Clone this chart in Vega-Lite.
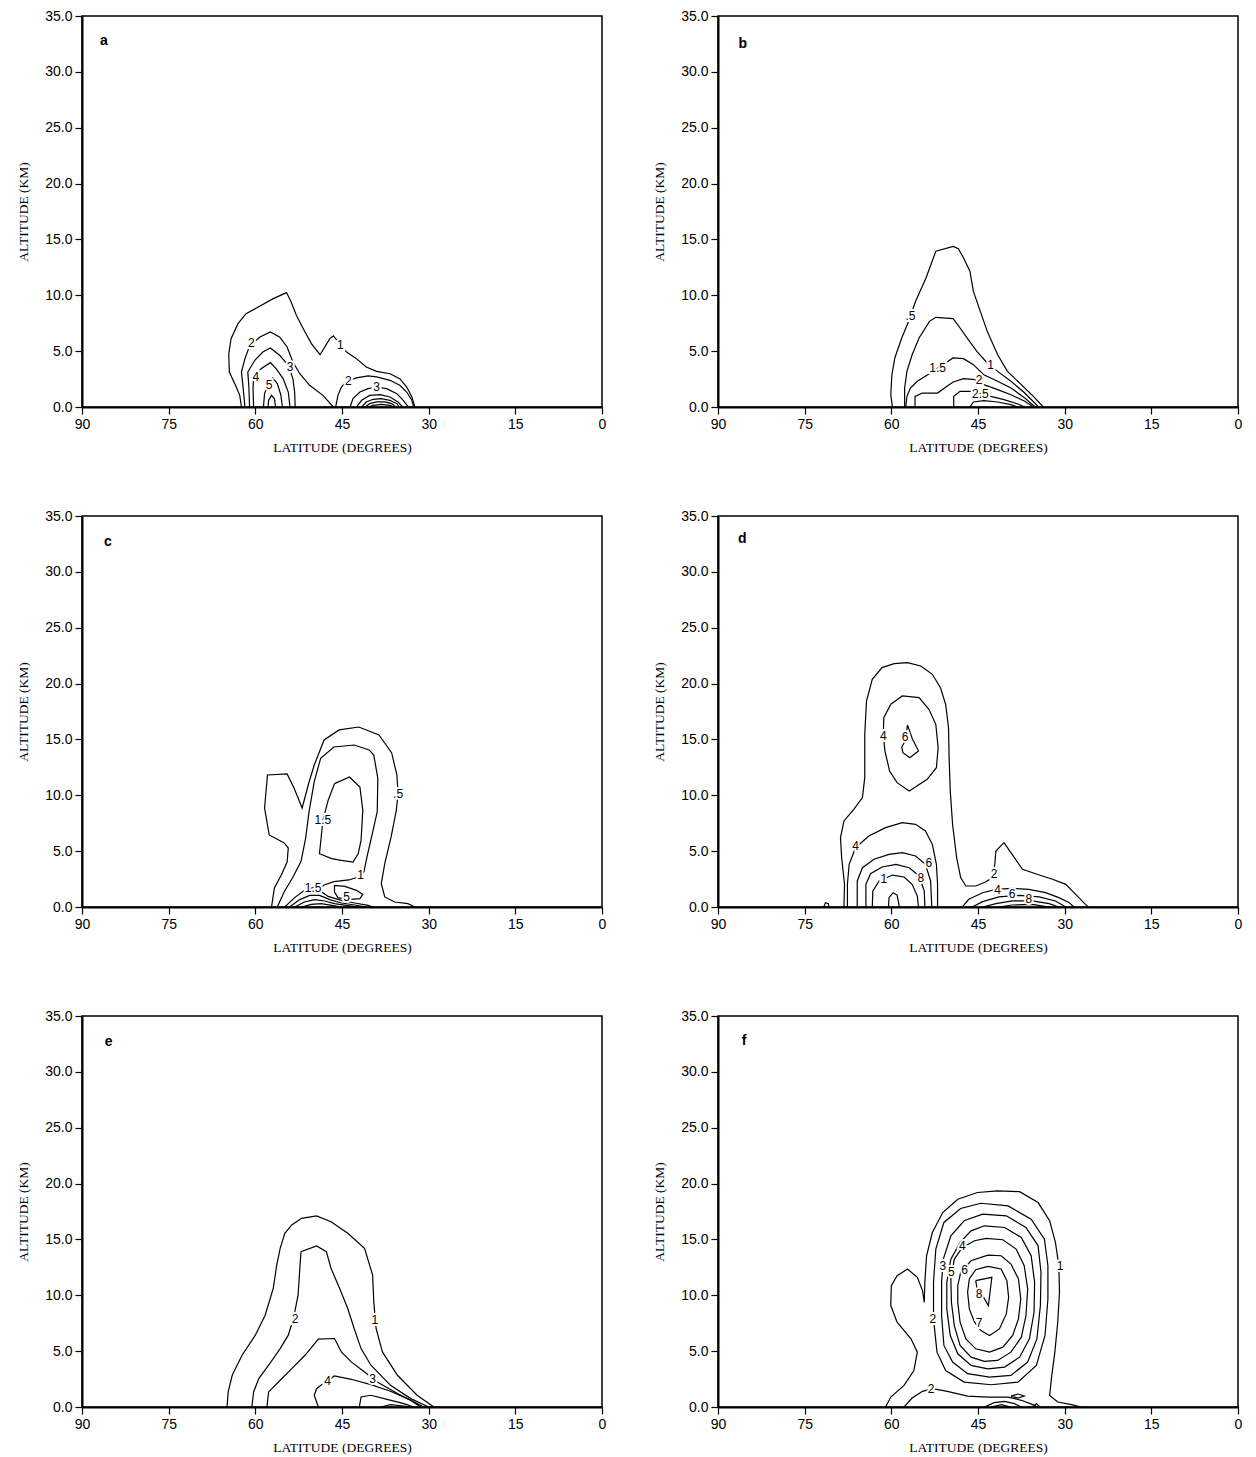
{
"$schema":"https://vega.github.io/schema/vega-lite/v6.json",
"background":"white",
"padding":{"left":16,"top":8,"right":5,"bottom":5},
"data":{"values":[
{"p":"a","id":"a1","lat":62.4,"alt":0},{"p":"a","id":"a1","lat":62.7,"alt":1.04},{"p":"a","id":"a1","lat":63.3,"alt":1.79},{"p":"a","id":"a1","lat":64.5,"alt":3.13},{"p":"a","id":"a1","lat":64.6,"alt":4.77},{"p":"a","id":"a1","lat":64.2,"alt":6.12},{"p":"a","id":"a1","lat":63.0,"alt":7.46},{"p":"a","id":"a1","lat":61.6,"alt":8.36},{"p":"a","id":"a1","lat":59.5,"alt":8.95},{"p":"a","id":"a1","lat":56.9,"alt":9.7},{"p":"a","id":"a1","lat":54.6,"alt":10.24},{"p":"a","id":"a1","lat":53.8,"alt":9.4},{"p":"a","id":"a1","lat":52.9,"alt":8.21},{"p":"a","id":"a1","lat":51.7,"alt":7.01},{"p":"a","id":"a1","lat":50.3,"alt":5.67},{"p":"a","id":"a1","lat":48.8,"alt":4.68},{"p":"a","id":"a1","lat":47.1,"alt":6.12},{"p":"a","id":"a1","lat":46.5,"alt":6.36},{"p":"a","id":"a1","lat":45.4,"alt":5.67},{"p":"a","id":"a1","lat":44.2,"alt":4.92},{"p":"a","id":"a1","lat":42.5,"alt":4.33},{"p":"a","id":"a1","lat":40.8,"alt":3.58},{"p":"a","id":"a1","lat":39.0,"alt":3.19},{"p":"a","id":"a1","lat":36.7,"alt":2.98},{"p":"a","id":"a1","lat":35.0,"alt":2.54},{"p":"a","id":"a1","lat":33.8,"alt":1.79},{"p":"a","id":"a1","lat":32.9,"alt":0.9},{"p":"a","id":"a1","lat":32.4,"alt":0},
{"p":"a","id":"a2","lat":61.8,"alt":0},{"p":"a","id":"a2","lat":62.1,"alt":1.64},{"p":"a","id":"a2","lat":62.4,"alt":3.13},{"p":"a","id":"a2","lat":61.8,"alt":4.33},{"p":"a","id":"a2","lat":61.0,"alt":5.46},{"p":"a","id":"a2","lat":59.2,"alt":6.27},{"p":"a","id":"a2","lat":57.4,"alt":6.71},{"p":"a","id":"a2","lat":55.8,"alt":6.27},{"p":"a","id":"a2","lat":54.5,"alt":5.37},{"p":"a","id":"a2","lat":53.5,"alt":4.03},{"p":"a","id":"a2","lat":52.3,"alt":2.98},{"p":"a","id":"a2","lat":50.6,"alt":1.94},{"p":"a","id":"a2","lat":48.3,"alt":1.04},{"p":"a","id":"a2","lat":46.5,"alt":0},
{"p":"a","id":"a3","lat":61.0,"alt":0},{"p":"a","id":"a3","lat":61.1,"alt":1.64},{"p":"a","id":"a3","lat":61.3,"alt":3.13},{"p":"a","id":"a3","lat":60.1,"alt":4.18},{"p":"a","id":"a3","lat":58.7,"alt":4.92},{"p":"a","id":"a3","lat":57.4,"alt":5.28},{"p":"a","id":"a3","lat":55.8,"alt":4.63},{"p":"a","id":"a3","lat":54.3,"alt":3.73},{"p":"a","id":"a3","lat":53.5,"alt":2.54},{"p":"a","id":"a3","lat":53.2,"alt":1.34},{"p":"a","id":"a3","lat":53.1,"alt":0},
{"p":"a","id":"a4","lat":60.3,"alt":0},{"p":"a","id":"a4","lat":60.4,"alt":1.64},{"p":"a","id":"a4","lat":60.3,"alt":2.69},{"p":"a","id":"a4","lat":59.0,"alt":3.43},{"p":"a","id":"a4","lat":57.4,"alt":3.97},{"p":"a","id":"a4","lat":56.4,"alt":3.43},{"p":"a","id":"a4","lat":55.2,"alt":2.54},{"p":"a","id":"a4","lat":54.3,"alt":1.34},{"p":"a","id":"a4","lat":54.0,"alt":0},
{"p":"a","id":"a5","lat":58.6,"alt":0},{"p":"a","id":"a5","lat":58.4,"alt":1.2},{"p":"a","id":"a5","lat":57.7,"alt":2.1},{"p":"a","id":"a5","lat":57.0,"alt":2.6},{"p":"a","id":"a5","lat":56.2,"alt":2.1},{"p":"a","id":"a5","lat":55.6,"alt":1.1},{"p":"a","id":"a5","lat":55.3,"alt":0},
{"p":"a","id":"a6","lat":57.8,"alt":0},{"p":"a","id":"a6","lat":57.7,"alt":0.6},{"p":"a","id":"a6","lat":57.2,"alt":1.04},{"p":"a","id":"a6","lat":56.7,"alt":0.75},{"p":"a","id":"a6","lat":56.5,"alt":0},
{"p":"a","id":"a7","lat":46.1,"alt":0},{"p":"a","id":"a7","lat":45.7,"alt":1.04},{"p":"a","id":"a7","lat":45.1,"alt":1.79},{"p":"a","id":"a7","lat":44.2,"alt":2.3},{"p":"a","id":"a7","lat":42.5,"alt":2.6},{"p":"a","id":"a7","lat":40.5,"alt":2.78},{"p":"a","id":"a7","lat":39.0,"alt":2.69},{"p":"a","id":"a7","lat":36.7,"alt":2.39},{"p":"a","id":"a7","lat":35.0,"alt":1.94},{"p":"a","id":"a7","lat":33.8,"alt":1.34},{"p":"a","id":"a7","lat":32.9,"alt":0.6},{"p":"a","id":"a7","lat":32.6,"alt":0},
{"p":"a","id":"a8","lat":43.6,"alt":0},{"p":"a","id":"a8","lat":43.1,"alt":0.75},{"p":"a","id":"a8","lat":41.9,"alt":1.34},{"p":"a","id":"a8","lat":40.5,"alt":1.64},{"p":"a","id":"a8","lat":39.0,"alt":1.79},{"p":"a","id":"a8","lat":37.3,"alt":1.64},{"p":"a","id":"a8","lat":35.5,"alt":1.19},{"p":"a","id":"a8","lat":34.4,"alt":0.6},{"p":"a","id":"a8","lat":33.5,"alt":0},
{"p":"a","id":"a9","lat":42.5,"alt":0},{"p":"a","id":"a9","lat":41.6,"alt":0.6},{"p":"a","id":"a9","lat":40.2,"alt":1.04},{"p":"a","id":"a9","lat":38.4,"alt":1.1},{"p":"a","id":"a9","lat":36.7,"alt":0.9},{"p":"a","id":"a9","lat":35.3,"alt":0.45},{"p":"a","id":"a9","lat":34.5,"alt":0},
{"p":"a","id":"a10","lat":41.6,"alt":0},{"p":"a","id":"a10","lat":40.8,"alt":0.45},{"p":"a","id":"a10","lat":39.6,"alt":0.69},{"p":"a","id":"a10","lat":38.2,"alt":0.75},{"p":"a","id":"a10","lat":36.7,"alt":0.6},{"p":"a","id":"a10","lat":35.5,"alt":0.3},{"p":"a","id":"a10","lat":35.1,"alt":0},
{"p":"a","id":"a11","lat":41.0,"alt":0},{"p":"a","id":"a11","lat":40.2,"alt":0.3},{"p":"a","id":"a11","lat":39.0,"alt":0.45},{"p":"a","id":"a11","lat":37.6,"alt":0.45},{"p":"a","id":"a11","lat":36.4,"alt":0.3},{"p":"a","id":"a11","lat":35.7,"alt":0},
{"p":"a","id":"a12","lat":40.5,"alt":0},{"p":"a","id":"a12","lat":39.6,"alt":0.15},{"p":"a","id":"a12","lat":38.2,"alt":0.24},{"p":"a","id":"a12","lat":36.7,"alt":0.15},{"p":"a","id":"a12","lat":36.1,"alt":0},
{"p":"a","t":"1","lat":45.3,"alt":5.58},{"p":"a","t":"2","lat":60.7,"alt":5.76},{"p":"a","t":"3","lat":54.0,"alt":3.6},{"p":"a","t":"4","lat":59.9,"alt":2.7},{"p":"a","t":"5","lat":57.6,"alt":1.94},{"p":"a","t":"2","lat":43.9,"alt":2.3},{"p":"a","t":"3","lat":39.0,"alt":1.75},
{"p":"a","L":"a","lat":86.2,"alt":32.8},

{"p":"b","id":"b1","lat":59.8,"alt":0},{"p":"b","id":"b1","lat":60.1,"alt":1.1},{"p":"b","id":"b1","lat":59.9,"alt":2.89},{"p":"b","id":"b1","lat":59.4,"alt":4.39},{"p":"b","id":"b1","lat":58.2,"alt":6.18},{"p":"b","id":"b1","lat":57.0,"alt":7.67},{"p":"b","id":"b1","lat":55.8,"alt":9.46},{"p":"b","id":"b1","lat":54.0,"alt":11.55},{"p":"b","id":"b1","lat":52.3,"alt":13.94},{"p":"b","id":"b1","lat":49.3,"alt":14.38},{"p":"b","id":"b1","lat":48.4,"alt":14.17},{"p":"b","id":"b1","lat":47.5,"alt":13.34},{"p":"b","id":"b1","lat":46.4,"alt":12.15},{"p":"b","id":"b1","lat":45.8,"alt":10.35},{"p":"b","id":"b1","lat":44.6,"alt":8.56},{"p":"b","id":"b1","lat":43.4,"alt":6.77},{"p":"b","id":"b1","lat":41.6,"alt":4.68},{"p":"b","id":"b1","lat":39.9,"alt":3.19},{"p":"b","id":"b1","lat":37.5,"alt":2.0},{"p":"b","id":"b1","lat":35.7,"alt":1.1},{"p":"b","id":"b1","lat":33.7,"alt":0},
{"p":"b","id":"b2","lat":57.7,"alt":0},{"p":"b","id":"b2","lat":57.7,"alt":1.7},{"p":"b","id":"b2","lat":57.3,"alt":3.19},{"p":"b","id":"b2","lat":56.4,"alt":4.68},{"p":"b","id":"b2","lat":55.2,"alt":6.18},{"p":"b","id":"b2","lat":53.4,"alt":7.67},{"p":"b","id":"b2","lat":52.3,"alt":8.03},{"p":"b","id":"b2","lat":49.3,"alt":7.91},{"p":"b","id":"b2","lat":48.1,"alt":7.07},{"p":"b","id":"b2","lat":46.9,"alt":6.18},{"p":"b","id":"b2","lat":45.2,"alt":4.98},{"p":"b","id":"b2","lat":43.4,"alt":3.94},{"p":"b","id":"b2","lat":41.6,"alt":3.19},{"p":"b","id":"b2","lat":39.3,"alt":2.3},{"p":"b","id":"b2","lat":36.9,"alt":1.25},{"p":"b","id":"b2","lat":34.5,"alt":0},
{"p":"b","id":"b3","lat":57.5,"alt":0},{"p":"b","id":"b3","lat":57.3,"alt":0.95},{"p":"b","id":"b3","lat":56.7,"alt":1.7},{"p":"b","id":"b3","lat":55.5,"alt":2.3},{"p":"b","id":"b3","lat":53.7,"alt":2.89},{"p":"b","id":"b3","lat":51.1,"alt":3.79},{"p":"b","id":"b3","lat":49.3,"alt":4.39},{"p":"b","id":"b3","lat":47.5,"alt":4.33},{"p":"b","id":"b3","lat":45.8,"alt":3.79},{"p":"b","id":"b3","lat":44.0,"alt":2.89},{"p":"b","id":"b3","lat":41.6,"alt":2.3},{"p":"b","id":"b3","lat":39.3,"alt":1.7},{"p":"b","id":"b3","lat":36.9,"alt":0.81},{"p":"b","id":"b3","lat":35.1,"alt":0},
{"p":"b","id":"b4","lat":55.9,"alt":0},{"p":"b","id":"b4","lat":55.9,"alt":0.95},{"p":"b","id":"b4","lat":54.6,"alt":1.25},{"p":"b","id":"b4","lat":52.0,"alt":1.25},{"p":"b","id":"b4","lat":50.8,"alt":1.7},{"p":"b","id":"b4","lat":49.3,"alt":2.24},{"p":"b","id":"b4","lat":47.5,"alt":2.54},{"p":"b","id":"b4","lat":45.5,"alt":2.45},{"p":"b","id":"b4","lat":44.0,"alt":2.0},{"p":"b","id":"b4","lat":41.6,"alt":1.55},{"p":"b","id":"b4","lat":39.3,"alt":1.1},{"p":"b","id":"b4","lat":36.9,"alt":0.51},{"p":"b","id":"b4","lat":35.4,"alt":0},
{"p":"b","id":"b5","lat":49.2,"alt":0},{"p":"b","id":"b5","lat":49.2,"alt":0.95},{"p":"b","id":"b5","lat":48.1,"alt":1.4},{"p":"b","id":"b5","lat":45.8,"alt":1.4},{"p":"b","id":"b5","lat":42.8,"alt":0.95},{"p":"b","id":"b5","lat":40.5,"alt":0.66},{"p":"b","id":"b5","lat":38.1,"alt":0.27},{"p":"b","id":"b5","lat":36.9,"alt":0},
{"p":"b","id":"b6","lat":46.4,"alt":0},{"p":"b","id":"b6","lat":45.8,"alt":0.45},{"p":"b","id":"b6","lat":44.0,"alt":0.57},{"p":"b","id":"b6","lat":41.6,"alt":0.45},{"p":"b","id":"b6","lat":39.3,"alt":0.21},{"p":"b","id":"b6","lat":38.1,"alt":0},
{"p":"b","t":".5","lat":56.7,"alt":8.12},{"p":"b","t":"1","lat":42.8,"alt":3.79},{"p":"b","t":"1.5","lat":52.0,"alt":3.49},{"p":"b","t":"2","lat":44.8,"alt":2.45},{"p":"b","t":"2.5","lat":44.6,"alt":1.19},
{"p":"b","L":"b","lat":85.7,"alt":32.5},

{"p":"c","id":"c1","lat":57.2,"alt":0},{"p":"c","id":"c1","lat":56.7,"alt":1.7},{"p":"c","id":"c1","lat":55.5,"alt":2.86},{"p":"c","id":"c1","lat":54.5,"alt":4.03},{"p":"c","id":"c1","lat":54.3,"alt":5.28},{"p":"c","id":"c1","lat":55.0,"alt":5.73},{"p":"c","id":"c1","lat":57.6,"alt":6.45},{"p":"c","id":"c1","lat":58.4,"alt":8.86},{"p":"c","id":"c1","lat":57.9,"alt":11.82},{"p":"c","id":"c1","lat":54.5,"alt":11.91},{"p":"c","id":"c1","lat":53.3,"alt":10.65},{"p":"c","id":"c1","lat":51.9,"alt":8.86},{"p":"c","id":"c1","lat":50.7,"alt":11.19},{"p":"c","id":"c1","lat":49.8,"alt":12.71},{"p":"c","id":"c1","lat":48.1,"alt":14.95},{"p":"c","id":"c1","lat":45.5,"alt":15.85},{"p":"c","id":"c1","lat":42.1,"alt":16.11},{"p":"c","id":"c1","lat":38.6,"alt":15.4},{"p":"c","id":"c1","lat":36.4,"alt":13.79},{"p":"c","id":"c1","lat":35.5,"alt":11.82},{"p":"c","id":"c1","lat":35.3,"alt":10.15},{"p":"c","id":"c1","lat":35.6,"alt":8.65},{"p":"c","id":"c1","lat":36.5,"alt":6.27},{"p":"c","id":"c1","lat":37.6,"alt":3.88},{"p":"c","id":"c1","lat":38.2,"alt":2.09},{"p":"c","id":"c1","lat":37.6,"alt":0.9},{"p":"c","id":"c1","lat":35.9,"alt":0.45},{"p":"c","id":"c1","lat":33.6,"alt":0.3},{"p":"c","id":"c1","lat":32.4,"alt":0},
{"p":"c","id":"c2","lat":56.2,"alt":0},{"p":"c","id":"c2","lat":55.0,"alt":1.37},{"p":"c","id":"c2","lat":53.6,"alt":2.57},{"p":"c","id":"c2","lat":52.1,"alt":4.06},{"p":"c","id":"c2","lat":51.3,"alt":6.15},{"p":"c","id":"c2","lat":50.7,"alt":8.53},{"p":"c","id":"c2","lat":49.8,"alt":11.22},{"p":"c","id":"c2","lat":48.7,"alt":13.31},{"p":"c","id":"c2","lat":46.4,"alt":14.32},{"p":"c","id":"c2","lat":42.9,"alt":14.5},{"p":"c","id":"c2","lat":40.3,"alt":14.06},{"p":"c","id":"c2","lat":39.5,"alt":13.6},{"p":"c","id":"c2","lat":38.8,"alt":11.52},{"p":"c","id":"c2","lat":38.9,"alt":8.53},{"p":"c","id":"c2","lat":39.8,"alt":6.45},{"p":"c","id":"c2","lat":40.6,"alt":4.66},{"p":"c","id":"c2","lat":41.2,"alt":3.16},{"p":"c","id":"c2","lat":42.1,"alt":2.71},{"p":"c","id":"c2","lat":43.8,"alt":2.42},{"p":"c","id":"c2","lat":46.4,"alt":2.27},{"p":"c","id":"c2","lat":48.1,"alt":1.97},{"p":"c","id":"c2","lat":48.9,"alt":1.6},
{"p":"c","id":"c3","lat":54.9,"alt":0},{"p":"c","id":"c3","lat":53.2,"alt":0.84},{"p":"c","id":"c3","lat":51.5,"alt":1.49},{"p":"c","id":"c3","lat":50.0,"alt":1.73},{"p":"c","id":"c3","lat":48.9,"alt":1.49},{"p":"c","id":"c3","lat":47.4,"alt":0.95},{"p":"c","id":"c3","lat":45.1,"alt":0.6},{"p":"c","id":"c3","lat":42.8,"alt":0.36},{"p":"c","id":"c3","lat":40.5,"alt":0.15},{"p":"c","id":"c3","lat":39.6,"alt":0},
{"p":"c","id":"c4","lat":54.1,"alt":0},{"p":"c","id":"c4","lat":52.3,"alt":0.66},{"p":"c","id":"c4","lat":50.6,"alt":1.04},{"p":"c","id":"c4","lat":48.9,"alt":1.04},{"p":"c","id":"c4","lat":47.1,"alt":0.66},{"p":"c","id":"c4","lat":45.1,"alt":0.36},{"p":"c","id":"c4","lat":42.8,"alt":0.18},{"p":"c","id":"c4","lat":40.8,"alt":0},
{"p":"c","id":"c5","lat":53.2,"alt":0},{"p":"c","id":"c5","lat":51.5,"alt":0.45},{"p":"c","id":"c5","lat":49.7,"alt":0.66},{"p":"c","id":"c5","lat":48.0,"alt":0.54},{"p":"c","id":"c5","lat":46.3,"alt":0.3},{"p":"c","id":"c5","lat":44.0,"alt":0.12},{"p":"c","id":"c5","lat":42.2,"alt":0},
{"p":"c","id":"c6","lat":52.0,"alt":0},{"p":"c","id":"c6","lat":50.3,"alt":0.24},{"p":"c","id":"c6","lat":48.6,"alt":0.3},{"p":"c","id":"c6","lat":46.8,"alt":0.15},{"p":"c","id":"c6","lat":45.1,"alt":0},
{"p":"c","id":"c7","lat":46.3,"alt":1.94},{"p":"c","id":"c7","lat":44.5,"alt":1.85},{"p":"c","id":"c7","lat":42.5,"alt":1.49},{"p":"c","id":"c7","lat":41.4,"alt":1.13},{"p":"c","id":"c7","lat":41.9,"alt":0.75},{"p":"c","id":"c7","lat":44.0,"alt":0.66},{"p":"c","id":"c7","lat":45.7,"alt":0.84},{"p":"c","id":"c7","lat":46.3,"alt":1.34},{"p":"c","id":"c7","lat":46.3,"alt":1.94},
{"p":"c","id":"c8","lat":46.3,"alt":11.04},{"p":"c","id":"c8","lat":43.7,"alt":11.64},{"p":"c","id":"c8","lat":41.9,"alt":10.74},{"p":"c","id":"c8","lat":41.4,"alt":8.65},{"p":"c","id":"c8","lat":41.7,"alt":5.97},{"p":"c","id":"c8","lat":42.2,"alt":4.77},{"p":"c","id":"c8","lat":43.1,"alt":4.03},{"p":"c","id":"c8","lat":45.1,"alt":4.18},{"p":"c","id":"c8","lat":46.8,"alt":4.33},{"p":"c","id":"c8","lat":48.9,"alt":4.77},{"p":"c","id":"c8","lat":48.6,"alt":6.27},{"p":"c","id":"c8","lat":48.3,"alt":7.76},{"p":"c","id":"c8","lat":47.4,"alt":9.55},{"p":"c","id":"c8","lat":46.3,"alt":11.04},
{"p":"c","t":".5","lat":35.3,"alt":10.15},{"p":"c","t":"1.5","lat":48.3,"alt":7.76},{"p":"c","t":"1","lat":41.8,"alt":2.83},{"p":"c","t":"1.5","lat":50.0,"alt":1.73},{"p":"c","t":"5","lat":44.2,"alt":0.9},
{"p":"c","L":"c","lat":85.5,"alt":32.7},

{"p":"d","id":"d1","lat":68.2,"alt":0},{"p":"d","id":"d1","lat":68.1,"alt":2.03},{"p":"d","id":"d1","lat":68.6,"alt":4.42},{"p":"d","id":"d1","lat":68.8,"alt":6.21},{"p":"d","id":"d1","lat":68.2,"alt":7.7},{"p":"d","id":"d1","lat":66.5,"alt":8.74},{"p":"d","id":"d1","lat":65.0,"alt":9.79},{"p":"d","id":"d1","lat":64.6,"alt":11.58},{"p":"d","id":"d1","lat":64.6,"alt":15.46},{"p":"d","id":"d1","lat":64.3,"alt":18.44},{"p":"d","id":"d1","lat":63.3,"alt":20.38},{"p":"d","id":"d1","lat":61.6,"alt":21.43},{"p":"d","id":"d1","lat":59.5,"alt":21.78},{"p":"d","id":"d1","lat":57.2,"alt":21.87},{"p":"d","id":"d1","lat":54.9,"alt":21.57},{"p":"d","id":"d1","lat":52.9,"alt":20.83},{"p":"d","id":"d1","lat":51.5,"alt":19.63},{"p":"d","id":"d1","lat":50.6,"alt":18.14},{"p":"d","id":"d1","lat":50.1,"alt":16.05},{"p":"d","id":"d1","lat":50.0,"alt":13.37},{"p":"d","id":"d1","lat":49.8,"alt":10.38},{"p":"d","id":"d1","lat":49.4,"alt":7.4},{"p":"d","id":"d1","lat":48.7,"alt":4.42},{"p":"d","id":"d1","lat":48.0,"alt":2.63},{"p":"d","id":"d1","lat":47.1,"alt":1.88},{"p":"d","id":"d1","lat":45.4,"alt":1.88},{"p":"d","id":"d1","lat":43.7,"alt":2.24},{"p":"d","id":"d1","lat":42.5,"alt":2.63},{"p":"d","id":"d1","lat":42.1,"alt":3.82},{"p":"d","id":"d1","lat":41.9,"alt":5.01},{"p":"d","id":"d1","lat":40.5,"alt":5.76},{"p":"d","id":"d1","lat":39.1,"alt":4.71},{"p":"d","id":"d1","lat":37.3,"alt":3.37},{"p":"d","id":"d1","lat":34.4,"alt":2.86},{"p":"d","id":"d1","lat":32.1,"alt":2.48},{"p":"d","id":"d1","lat":29.8,"alt":2.03},{"p":"d","id":"d1","lat":28.1,"alt":1.13},{"p":"d","id":"d1","lat":26.4,"alt":0.24},{"p":"d","id":"d1","lat":25.9,"alt":0},
{"p":"d","id":"d2","lat":60.1,"alt":18.14},{"p":"d","id":"d2","lat":58.1,"alt":18.89},{"p":"d","id":"d2","lat":55.2,"alt":18.74},{"p":"d","id":"d2","lat":53.5,"alt":17.7},{"p":"d","id":"d2","lat":52.3,"alt":16.35},{"p":"d","id":"d2","lat":51.9,"alt":14.26},{"p":"d","id":"d2","lat":52.2,"alt":12.47},{"p":"d","id":"d2","lat":53.8,"alt":11.43},{"p":"d","id":"d2","lat":56.9,"alt":10.38},{"p":"d","id":"d2","lat":59.0,"alt":11.13},{"p":"d","id":"d2","lat":60.3,"alt":12.17},{"p":"d","id":"d2","lat":61.1,"alt":13.96},{"p":"d","id":"d2","lat":61.4,"alt":15.31},{"p":"d","id":"d2","lat":61.3,"alt":16.95},{"p":"d","id":"d2","lat":60.1,"alt":18.14},
{"p":"d","id":"d3","lat":57.2,"alt":16.29},{"p":"d","id":"d3","lat":56.4,"alt":15.1},{"p":"d","id":"d3","lat":55.3,"alt":13.96},{"p":"d","id":"d3","lat":56.8,"alt":13.37},{"p":"d","id":"d3","lat":58.0,"alt":13.82},{"p":"d","id":"d3","lat":58.2,"alt":14.32},{"p":"d","id":"d3","lat":57.6,"alt":14.86},{"p":"d","id":"d3","lat":57.2,"alt":16.29},
{"p":"d","id":"d4","lat":67.6,"alt":0},{"p":"d","id":"d4","lat":67.6,"alt":2.03},{"p":"d","id":"d4","lat":67.3,"alt":3.82},{"p":"d","id":"d4","lat":66.2,"alt":5.31},{"p":"d","id":"d4","lat":63.9,"alt":6.36},{"p":"d","id":"d4","lat":61.0,"alt":7.1},{"p":"d","id":"d4","lat":58.1,"alt":7.55},{"p":"d","id":"d4","lat":55.8,"alt":7.4},{"p":"d","id":"d4","lat":54.1,"alt":6.8},{"p":"d","id":"d4","lat":52.9,"alt":5.61},{"p":"d","id":"d4","lat":52.2,"alt":3.82},{"p":"d","id":"d4","lat":52.0,"alt":2.03},{"p":"d","id":"d4","lat":52.0,"alt":0},
{"p":"d","id":"d5","lat":65.9,"alt":0},{"p":"d","id":"d5","lat":65.9,"alt":2.33},{"p":"d","id":"d5","lat":65.0,"alt":3.52},{"p":"d","id":"d5","lat":63.0,"alt":4.27},{"p":"d","id":"d5","lat":60.4,"alt":4.71},{"p":"d","id":"d5","lat":58.1,"alt":4.86},{"p":"d","id":"d5","lat":55.8,"alt":4.57},{"p":"d","id":"d5","lat":54.1,"alt":3.82},{"p":"d","id":"d5","lat":53.2,"alt":2.33},{"p":"d","id":"d5","lat":53.0,"alt":0},
{"p":"d","id":"d6","lat":64.4,"alt":0},{"p":"d","id":"d6","lat":64.4,"alt":2.03},{"p":"d","id":"d6","lat":63.6,"alt":2.98},{"p":"d","id":"d6","lat":61.6,"alt":3.58},{"p":"d","id":"d6","lat":59.2,"alt":3.82},{"p":"d","id":"d6","lat":56.9,"alt":3.52},{"p":"d","id":"d6","lat":55.2,"alt":2.78},{"p":"d","id":"d6","lat":54.3,"alt":1.43},{"p":"d","id":"d6","lat":54.2,"alt":0},
{"p":"d","id":"d7","lat":63.3,"alt":0},{"p":"d","id":"d7","lat":63.2,"alt":1.43},{"p":"d","id":"d7","lat":62.1,"alt":2.33},{"p":"d","id":"d7","lat":59.8,"alt":2.86},{"p":"d","id":"d7","lat":57.8,"alt":2.69},{"p":"d","id":"d7","lat":56.4,"alt":2.03},{"p":"d","id":"d7","lat":55.5,"alt":0.98},{"p":"d","id":"d7","lat":55.3,"alt":0},
{"p":"d","id":"d8","lat":60.5,"alt":0},{"p":"d","id":"d8","lat":60.4,"alt":0.84},{"p":"d","id":"d8","lat":59.7,"alt":1.28},{"p":"d","id":"d8","lat":59.0,"alt":1.07},{"p":"d","id":"d8","lat":58.6,"alt":0},
{"p":"d","id":"d9","lat":71.7,"alt":0},{"p":"d","id":"d9","lat":71.4,"alt":0.39},{"p":"d","id":"d9","lat":70.9,"alt":0.3},{"p":"d","id":"d9","lat":70.8,"alt":0},
{"p":"d","id":"d10","lat":47.7,"alt":0},{"p":"d","id":"d10","lat":46.6,"alt":0.69},{"p":"d","id":"d10","lat":44.2,"alt":1.28},{"p":"d","id":"d10","lat":41.9,"alt":1.58},{"p":"d","id":"d10","lat":39.1,"alt":1.67},{"p":"d","id":"d10","lat":36.2,"alt":1.58},{"p":"d","id":"d10","lat":33.3,"alt":1.28},{"p":"d","id":"d10","lat":31.0,"alt":0.84},{"p":"d","id":"d10","lat":29.2,"alt":0.39},{"p":"d","id":"d10","lat":28.4,"alt":0},
{"p":"d","id":"d11","lat":46.0,"alt":0},{"p":"d","id":"d11","lat":44.2,"alt":0.48},{"p":"d","id":"d11","lat":41.4,"alt":0.9},{"p":"d","id":"d11","lat":37.9,"alt":1.04},{"p":"d","id":"d11","lat":34.4,"alt":0.9},{"p":"d","id":"d11","lat":31.6,"alt":0.54},{"p":"d","id":"d11","lat":29.8,"alt":0},
{"p":"d","id":"d12","lat":44.2,"alt":0},{"p":"d","id":"d12","lat":41.9,"alt":0.3},{"p":"d","id":"d12","lat":39.1,"alt":0.54},{"p":"d","id":"d12","lat":35.6,"alt":0.54},{"p":"d","id":"d12","lat":32.7,"alt":0.3},{"p":"d","id":"d12","lat":31.0,"alt":0},
{"p":"d","id":"d13","lat":41.4,"alt":0},{"p":"d","id":"d13","lat":39.1,"alt":0.18},{"p":"d","id":"d13","lat":35.6,"alt":0.24},{"p":"d","id":"d13","lat":32.7,"alt":0},
{"p":"d","t":"4","lat":61.4,"alt":15.31},{"p":"d","t":"6","lat":57.6,"alt":15.22},{"p":"d","t":"4","lat":66.2,"alt":5.46},{"p":"d","t":"6","lat":53.5,"alt":3.97},{"p":"d","t":"8","lat":54.9,"alt":2.63},{"p":"d","t":"1","lat":61.3,"alt":2.48},{"p":"d","t":"2","lat":42.2,"alt":2.92},{"p":"d","t":"4","lat":41.6,"alt":1.49},{"p":"d","t":"6","lat":39.1,"alt":1.13},{"p":"d","t":"8","lat":36.2,"alt":0.69},
{"p":"d","L":"d","lat":85.8,"alt":32.9},

{"p":"e","id":"e1","lat":64.9,"alt":0},{"p":"e","id":"e1","lat":64.7,"alt":1.35},{"p":"e","id":"e1","lat":64.0,"alt":2.84},{"p":"e","id":"e1","lat":62.3,"alt":4.63},{"p":"e","id":"e1","lat":60.0,"alt":6.43},{"p":"e","id":"e1","lat":58.3,"alt":8.22},{"p":"e","id":"e1","lat":56.9,"alt":10.61},{"p":"e","id":"e1","lat":56.3,"alt":12.71},{"p":"e","id":"e1","lat":55.7,"alt":14.2},{"p":"e","id":"e1","lat":54.9,"alt":15.55},{"p":"e","id":"e1","lat":53.7,"alt":16.3},{"p":"e","id":"e1","lat":52.0,"alt":16.89},{"p":"e","id":"e1","lat":49.4,"alt":17.1},{"p":"e","id":"e1","lat":46.9,"alt":16.59},{"p":"e","id":"e1","lat":44.0,"alt":15.55},{"p":"e","id":"e1","lat":41.1,"alt":14.2},{"p":"e","id":"e1","lat":39.7,"alt":11.81},{"p":"e","id":"e1","lat":39.5,"alt":9.42},{"p":"e","id":"e1","lat":39.1,"alt":7.03},{"p":"e","id":"e1","lat":38.0,"alt":4.93},{"p":"e","id":"e1","lat":35.4,"alt":2.84},{"p":"e","id":"e1","lat":32.0,"alt":1.05},{"p":"e","id":"e1","lat":29.1,"alt":0},
{"p":"e","id":"e2","lat":60.6,"alt":0},{"p":"e","id":"e2","lat":60.3,"alt":1.35},{"p":"e","id":"e2","lat":59.4,"alt":2.54},{"p":"e","id":"e2","lat":57.7,"alt":3.74},{"p":"e","id":"e2","lat":55.7,"alt":5.23},{"p":"e","id":"e2","lat":54.3,"alt":6.43},{"p":"e","id":"e2","lat":53.4,"alt":7.92},{"p":"e","id":"e2","lat":52.6,"alt":10.02},{"p":"e","id":"e2","lat":52.3,"alt":12.41},{"p":"e","id":"e2","lat":52.1,"alt":13.9},{"p":"e","id":"e2","lat":49.4,"alt":14.41},{"p":"e","id":"e2","lat":47.7,"alt":13.9},{"p":"e","id":"e2","lat":46.9,"alt":12.41},{"p":"e","id":"e2","lat":45.4,"alt":10.61},{"p":"e","id":"e2","lat":44.0,"alt":8.82},{"p":"e","id":"e2","lat":42.9,"alt":7.03},{"p":"e","id":"e2","lat":41.7,"alt":5.23},{"p":"e","id":"e2","lat":40.0,"alt":3.74},{"p":"e","id":"e2","lat":36.6,"alt":1.94},{"p":"e","id":"e2","lat":33.1,"alt":0.75},{"p":"e","id":"e2","lat":30.0,"alt":0},
{"p":"e","id":"e3","lat":58.0,"alt":0},{"p":"e","id":"e3","lat":57.7,"alt":1.35},{"p":"e","id":"e3","lat":56.0,"alt":2.24},{"p":"e","id":"e3","lat":53.7,"alt":3.44},{"p":"e","id":"e3","lat":51.4,"alt":4.63},{"p":"e","id":"e3","lat":49.1,"alt":6.07},{"p":"e","id":"e3","lat":46.3,"alt":6.13},{"p":"e","id":"e3","lat":45.1,"alt":4.93},{"p":"e","id":"e3","lat":43.4,"alt":4.04},{"p":"e","id":"e3","lat":41.1,"alt":3.14},{"p":"e","id":"e3","lat":38.9,"alt":2.24},{"p":"e","id":"e3","lat":35.4,"alt":1.2},{"p":"e","id":"e3","lat":32.0,"alt":0.3},{"p":"e","id":"e3","lat":30.9,"alt":0},
{"p":"e","id":"e4","lat":49.1,"alt":0},{"p":"e","id":"e4","lat":49.8,"alt":1.05},{"p":"e","id":"e4","lat":49.4,"alt":1.64},{"p":"e","id":"e4","lat":48.3,"alt":2.09},{"p":"e","id":"e4","lat":46.3,"alt":2.78},{"p":"e","id":"e4","lat":43.4,"alt":2.48},{"p":"e","id":"e4","lat":40.0,"alt":2.0},{"p":"e","id":"e4","lat":36.6,"alt":1.41},{"p":"e","id":"e4","lat":33.1,"alt":0.6},{"p":"e","id":"e4","lat":31.4,"alt":0},
{"p":"e","id":"e5","lat":42.0,"alt":0},{"p":"e","id":"e5","lat":41.7,"alt":0.9},{"p":"e","id":"e5","lat":40.0,"alt":1.05},{"p":"e","id":"e5","lat":37.7,"alt":0.75},{"p":"e","id":"e5","lat":34.3,"alt":0.3},{"p":"e","id":"e5","lat":32.6,"alt":0},
{"p":"e","id":"e6","lat":38.3,"alt":0},{"p":"e","id":"e6","lat":36.6,"alt":0.21},{"p":"e","id":"e6","lat":34.3,"alt":0.09},{"p":"e","id":"e6","lat":33.1,"alt":0},
{"p":"e","t":"2","lat":53.1,"alt":7.92},{"p":"e","t":"1","lat":39.3,"alt":7.77},{"p":"e","t":"3","lat":39.7,"alt":2.48},{"p":"e","t":"4","lat":47.5,"alt":2.3},
{"p":"e","L":"e","lat":85.4,"alt":32.7},

{"p":"f","id":"f1","lat":61.0,"alt":0},{"p":"f","id":"f1","lat":60.1,"alt":0.89},{"p":"f","id":"f1","lat":57.8,"alt":1.93},{"p":"f","id":"f1","lat":56.1,"alt":3.27},{"p":"f","id":"f1","lat":55.5,"alt":4.91},{"p":"f","id":"f1","lat":56.6,"alt":6.1},{"p":"f","id":"f1","lat":59.0,"alt":7.59},{"p":"f","id":"f1","lat":60.1,"alt":9.08},{"p":"f","id":"f1","lat":60.0,"alt":10.86},{"p":"f","id":"f1","lat":59.0,"alt":11.76},{"p":"f","id":"f1","lat":57.2,"alt":12.35},{"p":"f","id":"f1","lat":55.5,"alt":11.61},{"p":"f","id":"f1","lat":54.6,"alt":10.42},{"p":"f","id":"f1","lat":54.3,"alt":9.37},{"p":"f","id":"f1","lat":54.2,"alt":11.16},{"p":"f","id":"f1","lat":53.9,"alt":13.54},{"p":"f","id":"f1","lat":52.9,"alt":15.62},{"p":"f","id":"f1","lat":51.1,"alt":17.41},{"p":"f","id":"f1","lat":48.5,"alt":18.6},{"p":"f","id":"f1","lat":45.1,"alt":19.2},{"p":"f","id":"f1","lat":41.6,"alt":19.34},{"p":"f","id":"f1","lat":37.8,"alt":19.28},{"p":"f","id":"f1","lat":34.6,"alt":18.3},{"p":"f","id":"f1","lat":32.6,"alt":16.67},{"p":"f","id":"f1","lat":31.6,"alt":14.73},{"p":"f","id":"f1","lat":31.0,"alt":12.65},{"p":"f","id":"f1","lat":30.9,"alt":10.27},{"p":"f","id":"f1","lat":31.2,"alt":7.59},{"p":"f","id":"f1","lat":31.7,"alt":4.91},{"p":"f","id":"f1","lat":32.3,"alt":2.53},{"p":"f","id":"f1","lat":32.6,"alt":1.04},{"p":"f","id":"f1","lat":31.2,"alt":0.45},{"p":"f","id":"f1","lat":28.8,"alt":0.21},{"p":"f","id":"f1","lat":27.1,"alt":0},
{"p":"f","id":"f2","lat":44.5,"alt":18.24},{"p":"f","id":"f2","lat":39.8,"alt":18.0},{"p":"f","id":"f2","lat":35.8,"alt":16.81},{"p":"f","id":"f2","lat":33.5,"alt":15.03},{"p":"f","id":"f2","lat":32.9,"alt":12.65},{"p":"f","id":"f2","lat":32.9,"alt":9.67},{"p":"f","id":"f2","lat":33.4,"alt":6.4},{"p":"f","id":"f2","lat":34.9,"alt":3.72},{"p":"f","id":"f2","lat":38.1,"alt":2.23},{"p":"f","id":"f2","lat":42.7,"alt":1.99},{"p":"f","id":"f2","lat":47.4,"alt":2.23},{"p":"f","id":"f2","lat":50.6,"alt":3.27},{"p":"f","id":"f2","lat":52.1,"alt":4.91},{"p":"f","id":"f2","lat":52.7,"alt":7.89},{"p":"f","id":"f2","lat":52.7,"alt":11.16},{"p":"f","id":"f2","lat":52.3,"alt":14.14},{"p":"f","id":"f2","lat":50.9,"alt":16.52},{"p":"f","id":"f2","lat":48.0,"alt":17.77},{"p":"f","id":"f2","lat":44.5,"alt":18.24},
{"p":"f","id":"f3","lat":44.2,"alt":17.26},{"p":"f","id":"f3","lat":40.1,"alt":17.11},{"p":"f","id":"f3","lat":36.7,"alt":16.07},{"p":"f","id":"f3","lat":34.6,"alt":14.43},{"p":"f","id":"f3","lat":34.1,"alt":12.05},{"p":"f","id":"f3","lat":34.2,"alt":9.08},{"p":"f","id":"f3","lat":34.8,"alt":6.1},{"p":"f","id":"f3","lat":36.4,"alt":4.02},{"p":"f","id":"f3","lat":39.3,"alt":2.83},{"p":"f","id":"f3","lat":43.0,"alt":2.68},{"p":"f","id":"f3","lat":46.8,"alt":2.98},{"p":"f","id":"f3","lat":49.4,"alt":4.02},{"p":"f","id":"f3","lat":50.9,"alt":5.51},{"p":"f","id":"f3","lat":51.3,"alt":8.18},{"p":"f","id":"f3","lat":51.3,"alt":11.16},{"p":"f","id":"f3","lat":51.0,"alt":13.24},{"p":"f","id":"f3","lat":49.7,"alt":15.33},{"p":"f","id":"f3","lat":47.4,"alt":16.67},{"p":"f","id":"f3","lat":44.2,"alt":17.26},
{"p":"f","id":"f4","lat":43.9,"alt":16.22},{"p":"f","id":"f4","lat":40.4,"alt":16.07},{"p":"f","id":"f4","lat":37.5,"alt":15.18},{"p":"f","id":"f4","lat":35.8,"alt":13.54},{"p":"f","id":"f4","lat":35.2,"alt":11.16},{"p":"f","id":"f4","lat":35.3,"alt":8.48},{"p":"f","id":"f4","lat":36.1,"alt":6.1},{"p":"f","id":"f4","lat":37.8,"alt":4.46},{"p":"f","id":"f4","lat":40.4,"alt":3.57},{"p":"f","id":"f4","lat":43.3,"alt":3.42},{"p":"f","id":"f4","lat":46.2,"alt":3.72},{"p":"f","id":"f4","lat":48.5,"alt":4.76},{"p":"f","id":"f4","lat":49.8,"alt":6.4},{"p":"f","id":"f4","lat":50.4,"alt":8.78},{"p":"f","id":"f4","lat":50.4,"alt":11.16},{"p":"f","id":"f4","lat":49.7,"alt":13.24},{"p":"f","id":"f4","lat":48.1,"alt":14.73},{"p":"f","id":"f4","lat":46.2,"alt":15.77},{"p":"f","id":"f4","lat":43.9,"alt":16.22},
{"p":"f","id":"f5","lat":43.6,"alt":15.09},{"p":"f","id":"f5","lat":40.7,"alt":14.97},{"p":"f","id":"f5","lat":38.4,"alt":14.14},{"p":"f","id":"f5","lat":37.0,"alt":12.65},{"p":"f","id":"f5","lat":36.4,"alt":10.56},{"p":"f","id":"f5","lat":36.7,"alt":8.18},{"p":"f","id":"f5","lat":37.5,"alt":6.25},{"p":"f","id":"f5","lat":39.3,"alt":4.91},{"p":"f","id":"f5","lat":41.6,"alt":4.17},{"p":"f","id":"f5","lat":43.9,"alt":4.08},{"p":"f","id":"f5","lat":46.2,"alt":4.46},{"p":"f","id":"f5","lat":48.1,"alt":5.51},{"p":"f","id":"f5","lat":49.1,"alt":7.29},{"p":"f","id":"f5","lat":49.6,"alt":9.37},{"p":"f","id":"f5","lat":49.7,"alt":11.46},{"p":"f","id":"f5","lat":49.1,"alt":13.24},{"p":"f","id":"f5","lat":47.7,"alt":14.28},{"p":"f","id":"f5","lat":45.6,"alt":14.88},{"p":"f","id":"f5","lat":43.6,"alt":15.09},
{"p":"f","id":"f6","lat":43.3,"alt":13.6},{"p":"f","id":"f6","lat":41.0,"alt":13.54},{"p":"f","id":"f6","lat":39.3,"alt":12.8},{"p":"f","id":"f6","lat":38.0,"alt":11.46},{"p":"f","id":"f6","lat":37.6,"alt":9.67},{"p":"f","id":"f6","lat":38.0,"alt":7.89},{"p":"f","id":"f6","lat":39.0,"alt":6.4},{"p":"f","id":"f6","lat":40.7,"alt":5.36},{"p":"f","id":"f6","lat":43.0,"alt":4.91},{"p":"f","id":"f6","lat":45.4,"alt":5.21},{"p":"f","id":"f6","lat":47.1,"alt":6.1},{"p":"f","id":"f6","lat":48.1,"alt":7.59},{"p":"f","id":"f6","lat":48.5,"alt":9.37},{"p":"f","id":"f6","lat":48.5,"alt":10.86},{"p":"f","id":"f6","lat":48.0,"alt":12.05},{"p":"f","id":"f6","lat":46.2,"alt":13.09},{"p":"f","id":"f6","lat":43.3,"alt":13.6},
{"p":"f","id":"f7","lat":43.3,"alt":12.59},{"p":"f","id":"f7","lat":41.0,"alt":12.35},{"p":"f","id":"f7","lat":40.0,"alt":11.31},{"p":"f","id":"f7","lat":39.7,"alt":9.82},{"p":"f","id":"f7","lat":40.1,"alt":8.33},{"p":"f","id":"f7","lat":41.3,"alt":6.99},{"p":"f","id":"f7","lat":43.0,"alt":6.4},{"p":"f","id":"f7","lat":44.5,"alt":6.84},{"p":"f","id":"f7","lat":45.6,"alt":7.59},{"p":"f","id":"f7","lat":46.5,"alt":8.78},{"p":"f","id":"f7","lat":46.8,"alt":10.27},{"p":"f","id":"f7","lat":46.5,"alt":11.46},{"p":"f","id":"f7","lat":45.4,"alt":12.29},{"p":"f","id":"f7","lat":43.3,"alt":12.59},
{"p":"f","id":"f8","lat":45.4,"alt":11.31},{"p":"f","id":"f8","lat":42.6,"alt":11.61},{"p":"f","id":"f8","lat":43.2,"alt":9.08},{"p":"f","id":"f8","lat":44.2,"alt":9.97},{"p":"f","id":"f8","lat":45.2,"alt":10.71},{"p":"f","id":"f8","lat":45.4,"alt":11.31},
{"p":"f","id":"f9","lat":57.8,"alt":0},{"p":"f","id":"f9","lat":56.4,"alt":0.8},{"p":"f","id":"f9","lat":54.6,"alt":1.4},{"p":"f","id":"f9","lat":52.9,"alt":1.64},{"p":"f","id":"f9","lat":50.3,"alt":1.4},{"p":"f","id":"f9","lat":46.8,"alt":0.98},{"p":"f","id":"f9","lat":43.3,"alt":0.89},{"p":"f","id":"f9","lat":39.8,"alt":0.89},{"p":"f","id":"f9","lat":37.5,"alt":0.6},{"p":"f","id":"f9","lat":35.2,"alt":0.15},{"p":"f","id":"f9","lat":34.9,"alt":0},
{"p":"f","id":"f10","lat":39.3,"alt":0.98},{"p":"f","id":"f10","lat":38.1,"alt":1.16},{"p":"f","id":"f10","lat":37.0,"alt":0.98},{"p":"f","id":"f10","lat":38.1,"alt":0.8},{"p":"f","id":"f10","lat":39.3,"alt":0.98},
{"p":"f","id":"f11","lat":43.9,"alt":0},{"p":"f","id":"f11","lat":42.2,"alt":0.39},{"p":"f","id":"f11","lat":40.4,"alt":0.51},{"p":"f","id":"f11","lat":38.7,"alt":0.3},{"p":"f","id":"f11","lat":37.5,"alt":0},
{"p":"f","id":"f12","lat":42.7,"alt":0},{"p":"f","id":"f12","lat":41.0,"alt":0.21},{"p":"f","id":"f12","lat":39.3,"alt":0},
{"p":"f","id":"f13","lat":35.5,"alt":0},{"p":"f","id":"f13","lat":34.9,"alt":0.3},{"p":"f","id":"f13","lat":34.3,"alt":0},
{"p":"f","t":"1","lat":30.8,"alt":12.59},{"p":"f","t":"2","lat":52.8,"alt":7.89},{"p":"f","t":"3","lat":51.1,"alt":12.65},{"p":"f","t":"4","lat":47.7,"alt":14.43},{"p":"f","t":"5","lat":49.6,"alt":12.1},{"p":"f","t":"6","lat":47.3,"alt":12.3},{"p":"f","t":"7","lat":44.8,"alt":7.53},{"p":"f","t":"8","lat":44.8,"alt":10.12},{"p":"f","t":"2","lat":53.1,"alt":1.64},
{"p":"f","L":"f","lat":85.5,"alt":32.8}
]},
"facet":{"field":"p","type":"nominal","title":null,"header":{"title":null,"labels":false,"labelFontSize":0,"labelPadding":0,"labelExpr":"''"}},
"columns":2,
"spacing":{"row":109,"column":116},
"bounds":"flush",
"resolve":{"axis":{"x":"independent","y":"independent"}},
"spec":{
"width":520,"height":391,
"encoding":{
"x":{"field":"lat","type":"quantitative","scale":{"domain":[0,90],"reverse":true,"nice":false,"zero":false},"axis":{"values":[90,75,60,45,30,15,0],"format":"d","title":"LATITUDE (DEGREES)","titlePadding":9,"labelFlush":false,"labelOverlap":false}},
"y":{"field":"alt","type":"quantitative","scale":{"domain":[0,35],"nice":false},"axis":{"values":[0,5,10,15,20,25,30,35],"format":".1f","title":"ALTITUDE (KM)","titlePadding":14,"labelFlush":false,"labelOverlap":false}}
},
"layer":[
{"transform":[{"filter":"isValid(datum.id)"}],"mark":{"type":"line","color":"black","strokeWidth":1.2,"clip":true},"encoding":{"detail":{"field":"id","type":"nominal"},"order":{"value":null}}},
{"transform":[{"filter":"isValid(datum.t)"}],"mark":{"type":"text","fill":"white","stroke":"white","strokeWidth":4,"fontSize":12,"font":"Liberation Sans"},"encoding":{"text":{"field":"t","type":"nominal"}}},
{"transform":[{"filter":"isValid(datum.t)"}],"mark":{"type":"text","fill":"black","fontSize":12,"font":"Liberation Sans"},"encoding":{"text":{"field":"t","type":"nominal"}}},
{"transform":[{"filter":"isValid(datum.L)"}],"mark":{"type":"text","fill":"black","fontSize":14,"fontWeight":"bold","font":"Liberation Sans"},"encoding":{"text":{"field":"L","type":"nominal"}}}
]
},
"config":{
"view":{"stroke":"black","strokeWidth":1.5},
"header":{"labels":false,"title":null},
"headerFacet":{"labels":false},
"axis":{"grid":false,"domainColor":"black","domainWidth":2,"tickColor":"black","tickWidth":1.2,"tickSize":7,"labelPadding":3,"labelFont":"Liberation Sans","labelFontSize":14,"labelColor":"black","titleFont":"Liberation Serif","titleFontSize":13.5,"titleFontWeight":"normal","titleColor":"black"}
}
}
